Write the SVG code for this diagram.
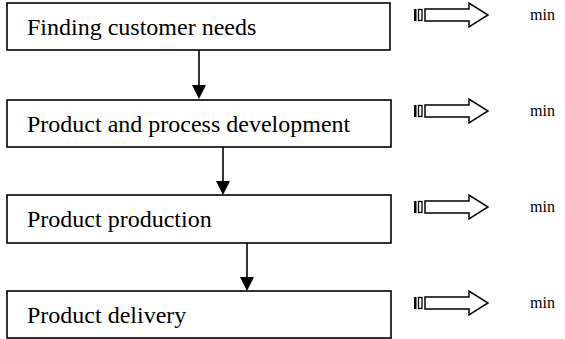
<svg xmlns="http://www.w3.org/2000/svg" width="565" height="339" viewBox="0 0 565 339">
<style>
.box{fill:#fff;stroke:#000;stroke-width:1.6}
.lbl{font-family:"Liberation Serif","Times New Roman",serif;font-size:24px;fill:#000}
.min{font-family:"Liberation Serif","Times New Roman",serif;font-size:16px;fill:#000}
.conn{stroke:#000;stroke-width:1.6;fill:none}
.head{fill:#000}
.sa{fill:#fff;stroke:#000;stroke-width:1.5}
</style>
<defs>
<g id="striped">
<rect x="414" y="-6" width="2.5" height="12" fill="#000"/>
<rect x="418.5" y="-5.5" width="3.5" height="11" fill="#fff" stroke="#000" stroke-width="1.3"/>
<polygon class="sa" points="425,-6 469,-6 469,-12 488,0 469,12 469,6 425,6"/>
</g>
</defs>
<g id="node1"><rect class="box" x="7" y="3" width="383" height="47"/><text class="lbl" x="27" y="35">Finding customer needs</text></g>
<g id="node2"><rect class="box" x="7" y="100" width="384" height="47"/><text class="lbl" x="27" y="132">Product and process development</text></g>
<g id="node3"><rect class="box" x="7" y="195" width="384" height="48"/><text class="lbl" x="27" y="227">Product production</text></g>
<g id="node4"><rect class="box" x="7" y="291" width="384" height="47"/><text class="lbl" x="27" y="323">Product delivery</text></g>
<g id="connectors">
<line class="conn" x1="199" y1="50" x2="199" y2="86"/><polygon class="head" points="192,85 206,85 199,99"/>
<line class="conn" x1="223" y1="147" x2="223" y2="182"/><polygon class="head" points="216,181 230,181 223,195"/>
<line class="conn" x1="247" y1="243" x2="247" y2="278"/><polygon class="head" points="240,277 254,277 247,291"/>
</g>
<g id="side-arrows">
<use href="#striped" transform="translate(0,15)"/>
<use href="#striped" transform="translate(0,111)"/>
<use href="#striped" transform="translate(0,207)"/>
<use href="#striped" transform="translate(0,303)"/>
</g>
<g id="min-labels">
<text class="min" x="530" y="20">min</text>
<text class="min" x="530" y="116">min</text>
<text class="min" x="530" y="212">min</text>
<text class="min" x="530" y="308">min</text>
</g>
</svg>
